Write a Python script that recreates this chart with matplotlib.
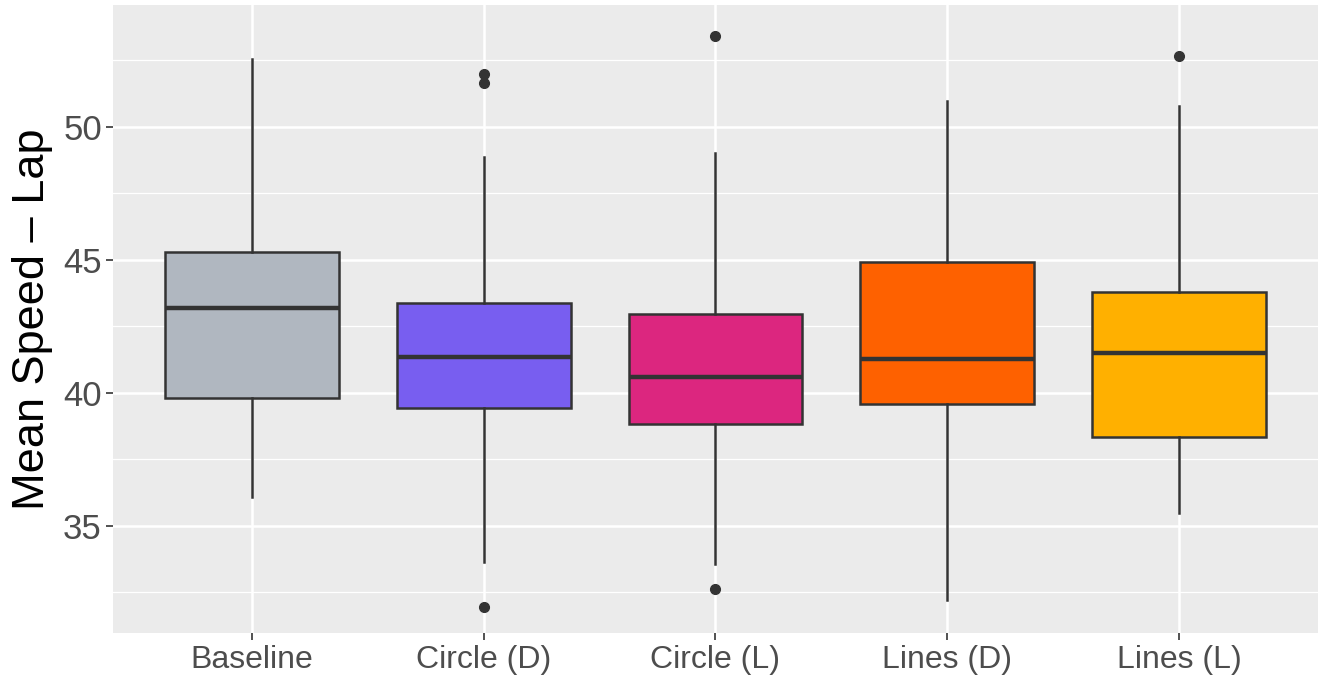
import matplotlib.pyplot as plt
import numpy as np

plt.rcParams['font.family'] = ['Liberation Sans', 'DejaVu Sans']

# groups and colours
groups = ["Baseline", "Circle (D)", "Circle (L)", "Lines (D)", "Lines (L)"]
colors = ["#B0B7C0", "#785EF0", "#DC267F", "#FE6100", "#FFB000"]

# box stats
whislo = [36.09, 33.65, 33.57, 32.22, 35.49]
q1 = [39.81, 39.44, 38.83, 39.59, 38.35]
med = [43.20, 41.35, 40.60, 41.28, 41.50]
q3 = [45.30, 43.38, 42.97, 44.92, 43.80]
whishi = [52.56, 48.87, 49.02, 50.98, 50.79]
fliers = [[], [51.99, 51.65, 31.95], [53.42, 32.63], [], [52.67]]

stats = []
for i in range(len(groups)):
    stats.append(dict(label=groups[i], whislo=whislo[i], q1=q1[i], med=med[i],
                      q3=q3[i], whishi=whishi[i], fliers=fliers[i]))

fig = plt.figure(figsize=(13.18, 6.79), dpi=100)
ax = fig.add_axes([0.0857, 0.068, 0.9143, 0.925])
ax.set_facecolor("#EBEBEB")

pos = np.arange(1, len(groups) + 1)
bp = ax.bxp(stats, positions=pos, widths=0.75, patch_artist=True, showcaps=False,
            boxprops=dict(edgecolor="#333333", linewidth=1.8),
            whiskerprops=dict(color="#333333", linewidth=1.8),
            medianprops=dict(color="#333333", linewidth=3.2),
            flierprops=dict(marker="o", markerfacecolor="#333333", markeredgecolor="#333333",
                            markersize=7))
for patch, c in zip(bp["boxes"], colors):
    patch.set_facecolor(c)

ax.set_xlim(0.4, 5.6)
ax.set_ylim(30.98, 54.59)
ax.set_yticks([35, 40, 45, 50])
ax.set_yticks([32.5, 37.5, 42.5, 47.5, 52.5], minor=True)
ax.set_xticks(pos)
ax.set_xticklabels(groups)

ax.grid(True, which="major", color="white", linewidth=1.8)
ax.grid(True, which="minor", axis="y", color="white", linewidth=0.9)
ax.set_axisbelow(True)
for s in ax.spines.values():
    s.set_visible(False)

ax.tick_params(axis="both", which="major", length=5, width=1.2, color="#333333",
               labelcolor="#4D4D4D", pad=3)
ax.tick_params(axis="x", labelsize=23, pad=4)
ax.tick_params(axis="y", labelsize=25)
ax.tick_params(axis="y", which="minor", length=0)
ax.set_ylabel("Mean Speed – Lap", fontsize=32.5, color="black", labelpad=7)

fig.savefig("out.png", dpi=100)
